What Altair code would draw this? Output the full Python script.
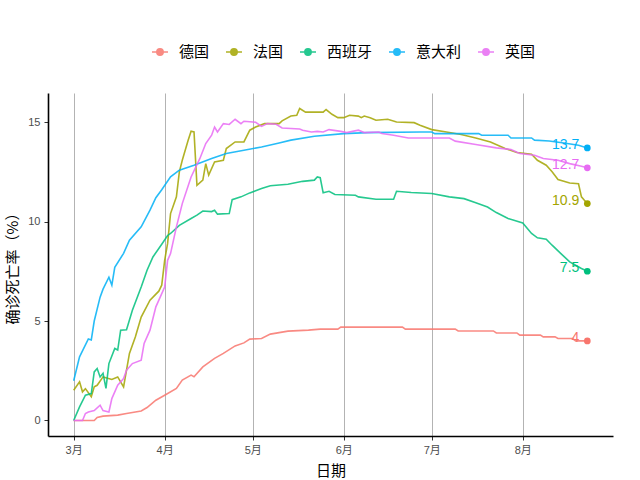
import altair as alt
import pandas as pd

countries = ["德国", "法国", "西班牙", "意大利", "英国"]
colors = ["#F8766D", "#A3A500", "#00BF7D", "#00B0F6", "#E76BF3"]
start_date = "2020-03-01"

# days since 2020-03-01 and case fatality rate (%)
de_days = [0, 7, 8, 10, 15, 18, 23, 25, 28, 31, 35, 37, 40, 41, 44, 48, 51, 55, 58, 60, 64, 67, 73, 80, 84, 90, 91, 112, 113, 130, 131, 143, 144, 151, 152, 159, 160, 164, 165, 170, 171, 175]
de_vals = [0, 0, 0.15, 0.22, 0.27, 0.35, 0.48, 0.65, 1.02, 1.27, 1.61, 2.03, 2.28, 2.2, 2.69, 3.12, 3.37, 3.75, 3.9, 4.09, 4.12, 4.34, 4.49, 4.54, 4.59, 4.59, 4.69, 4.69, 4.59, 4.59, 4.5, 4.5, 4.4, 4.4, 4.29, 4.29, 4.2, 4.2, 4.12, 4.12, 4.0, 4.0]

fr_days = [0, 2, 3, 4, 6, 7, 8, 10, 13, 15, 17, 19, 21, 23, 26, 29, 30, 31, 32, 33, 35, 36, 37, 39, 40, 41, 42, 44, 45, 46, 48, 51, 52, 55, 58, 60, 62, 65, 70, 71, 74, 76, 77, 79, 85, 86, 88, 90, 92, 94, 97, 98, 99, 101, 103, 107, 110, 116, 118, 122, 127, 132, 137, 142, 147, 151, 156, 158, 161, 163, 165, 169, 172, 173, 174, 175]
fr_vals = [1.52, 1.94, 1.44, 1.6, 1.19, 1.69, 1.77, 2.19, 2.06, 2.19, 1.69, 3.37, 4.2, 5.2, 6.05, 6.5, 6.8, 8.05, 8.9, 10.4, 11.24, 12.5, 13.08, 14.09, 14.54, 14.5, 11.82, 12.08, 12.91, 12.33, 13.0, 13.08, 13.67, 14.0, 14.0, 14.59, 14.75, 14.92, 14.92, 15.06, 15.3, 15.34, 15.68, 15.5, 15.5, 15.63, 15.39, 15.22, 15.22, 15.34, 15.3, 15.22, 15.3, 15.22, 15.09, 15.14, 15.0, 14.97, 14.84, 14.62, 14.5, 14.37, 14.2, 14.0, 13.67, 13.47, 13.38, 13.08, 12.83, 12.5, 12.11, 11.94, 11.9, 11.24, 11.07, 10.9]

es_days = [0, 2, 4, 6, 7, 8, 9, 10, 11, 12, 14, 15, 16, 18, 20, 23, 25, 27, 30, 32, 33, 36, 40, 42, 44, 47, 48, 49, 53, 54, 57, 60, 64, 67, 73, 78, 82, 83, 84, 85, 87, 89, 96, 97, 103, 109, 110, 115, 122, 128, 133, 137, 141, 144, 148, 153, 156, 158, 161, 163, 166, 169, 173, 175]
es_vals = [0, 0.68, 1.27, 1.35, 2.44, 2.61, 2.19, 2.37, 1.61, 2.86, 3.62, 3.54, 4.54, 4.56, 5.54, 6.71, 7.55, 8.22, 8.86, 9.3, 9.4, 9.81, 10.15, 10.32, 10.53, 10.5, 10.57, 10.37, 10.4, 11.1, 11.24, 11.44, 11.66, 11.8, 11.87, 12.02, 12.08, 12.24, 12.2, 11.44, 11.52, 11.36, 11.32, 11.24, 11.12, 11.12, 11.52, 11.46, 11.41, 11.24, 11.15, 10.94, 10.73, 10.45, 10.15, 9.93, 9.4, 9.18, 9.11, 8.81, 8.39, 7.97, 7.64, 7.5]

it_days = [0, 2, 5, 6, 7, 9, 10, 12, 13, 14, 17, 19, 23, 26, 28, 30, 33, 36, 41, 47, 52, 58, 64, 70, 74, 82, 92, 100, 118, 122, 123, 138, 139, 148, 149, 156, 157, 162, 167, 172, 175]
it_vals = [2.0, 3.2, 4.1, 4.05, 5.0, 6.2, 6.6, 7.2, 6.8, 7.7, 8.4, 9.06, 9.73, 10.57, 11.2, 11.6, 12.25, 12.58, 12.83, 13.17, 13.42, 13.58, 13.75, 13.95, 14.09, 14.29, 14.42, 14.47, 14.5, 14.5, 14.42, 14.42, 14.34, 14.34, 14.2, 14.2, 14.09, 14.05, 13.95, 13.83, 13.7]

uk_days = [0, 3, 4, 5, 7, 9, 10, 12, 13, 15, 17, 18, 20, 23, 24, 26, 28, 31, 32, 33, 35, 37, 40, 43, 45, 47, 48, 49, 51, 53, 55, 57, 58, 62, 64, 66, 69, 71, 77, 78, 81, 83, 85, 87, 91, 93, 97, 99, 104, 105, 109, 114, 128, 130, 137, 144, 149, 152, 157, 160, 165, 169, 173, 175]
uk_vals = [0, 0, 0.35, 0.43, 0.5, 0.77, 0.5, 0.43, 1.1, 1.77, 2.11, 2.53, 2.86, 3.03, 3.87, 4.54, 5.71, 6.71, 8.05, 8.39, 9.73, 10.9, 12.24, 13.17, 13.92, 14.34, 14.75, 14.5, 14.92, 14.88, 15.14, 14.92, 15.04, 14.99, 14.78, 14.92, 14.89, 14.7, 14.65, 14.59, 14.5, 14.53, 14.5, 14.62, 14.53, 14.47, 14.59, 14.47, 14.5, 14.42, 14.34, 14.2, 14.2, 14.04, 13.87, 13.7, 13.62, 13.42, 13.33, 13.17, 13.08, 12.91, 12.78, 12.7]

end_labels = ["4", "10.9", "7.5", "13.7", "12.7"]

month_ticks = [3, 4, 5, 6, 7, 8]
y_ticks = [0, 5, 10, 15]


def frame(name, days, vals):
    d = pd.DataFrame({"day": days, "rate": vals})
    d["date"] = (pd.Timestamp(start_date) + pd.to_timedelta(d["day"], unit="D")).dt.strftime("%Y-%m-%d")
    d["country"] = name
    return d


series = [(de_days, de_vals), (fr_days, fr_vals), (es_days, es_vals), (it_days, it_vals), (uk_days, uk_vals)]
df = pd.concat([frame(c, d, v) for c, (d, v) in zip(countries, series)], ignore_index=True)
last = df.groupby("country", sort=False).tail(1).copy()
last["label"] = last["country"].map(dict(zip(countries, end_labels)))

cjk = "Noto Sans CJK SC"
latin = "Liberation Sans, Noto Sans CJK SC"

legend_symbol = (
    "M-1,0L1,0"
    "M0.4,0A0.4,0.4,0,1,1,-0.4,0A0.4,0.4,0,1,1,0.4,0"
    "M0.24,0A0.24,0.24,0,1,1,-0.24,0A0.24,0.24,0,1,1,0.24,0"
    "M0.09,0A0.09,0.09,0,1,1,-0.09,0A0.09,0.09,0,1,1,0.09,0"
)

x_enc = alt.X(
    "date:T",
    scale=alt.Scale(
        type="utc",
        domain=[
            alt.DateTime(year=2020, month=2, date=21, hours=6, utc=True),
            alt.DateTime(year=2020, month=8, date=31, hours=18, utc=True),
        ],
        nice=False,
    ),
    axis=alt.Axis(
        values=[alt.DateTime(year=2020, month=m, date=1, utc=True) for m in month_ticks],
        labelExpr="utcFormat(datum.value, '%-m') + '月'",
        title="日期",
        grid=True,
        gridColor="#B3B3B3",
        gridWidth=1,
        titleY=34,
        titleBaseline="middle",
    ),
)
y_enc = alt.Y(
    "rate:Q",
    scale=alt.Scale(domain=[-0.78, 16.46], nice=False, zero=False),
    axis=alt.Axis(
        values=y_ticks,
        grid=False,
        title="确诊死亡率（%）",
        titleX=-36,
        titleY=171.5,
        titleAngle=270,
        titleAlign="center",
        titleBaseline="middle",
    ),
)
color_scale = alt.Scale(domain=countries, range=colors)

lines = alt.Chart(df).mark_line(strokeWidth=1.6, opacity=0.85).encode(
    x=x_enc,
    y=y_enc,
    color=alt.Color(
        "country:N",
        scale=color_scale,
        legend=alt.Legend(
            orient="none",
            legendX=103,
            legendY=-50,
            direction="horizontal",
            columns=5,
            title=None,
            symbolType=legend_symbol,
            symbolSize=256,
            symbolStrokeWidth=1.5,
            labelFontSize=15,
            labelFont=cjk,
            labelColor="#000000",
            labelOffset=10,
            columnPadding=13,
            padding=0,
        ),
    ),
)

points = alt.Chart(last).mark_point(filled=True, size=45, opacity=1).encode(
    x="date:T",
    y="rate:Q",
    color=alt.Color("country:N", scale=color_scale, legend=None),
)

labels = alt.Chart(last).mark_text(
    align="right", baseline="middle", dx=-8, dy=-3, fontSize=14, font=latin
).encode(
    x="date:T",
    y="rate:Q",
    text="label:N",
    color=alt.Color("country:N", scale=color_scale, legend=None),
)

chart = (
    alt.layer(lines, points, labels)
    .properties(
        width=565,
        height=343,
        autosize=alt.AutoSizeParams(type="none"),
        padding={"left": 48, "top": 93, "right": 27, "bottom": 44},
    )
    .configure_view(stroke=None)
    .configure_axis(
        domainColor="#000000",
        domainWidth=1.6,
        tickColor="#333333",
        tickSize=4,
        tickWidth=1,
        labelColor="#4D4D4D",
        labelFont=latin,
        labelFontSize=11,
        labelPadding=4,
        titleFont=cjk,
        titleFontSize=15,
        titleFontWeight="normal",
        titleColor="#000000",
    )
)

chart.save("out.html", embed_options={"renderer": "svg", "actions": False})
